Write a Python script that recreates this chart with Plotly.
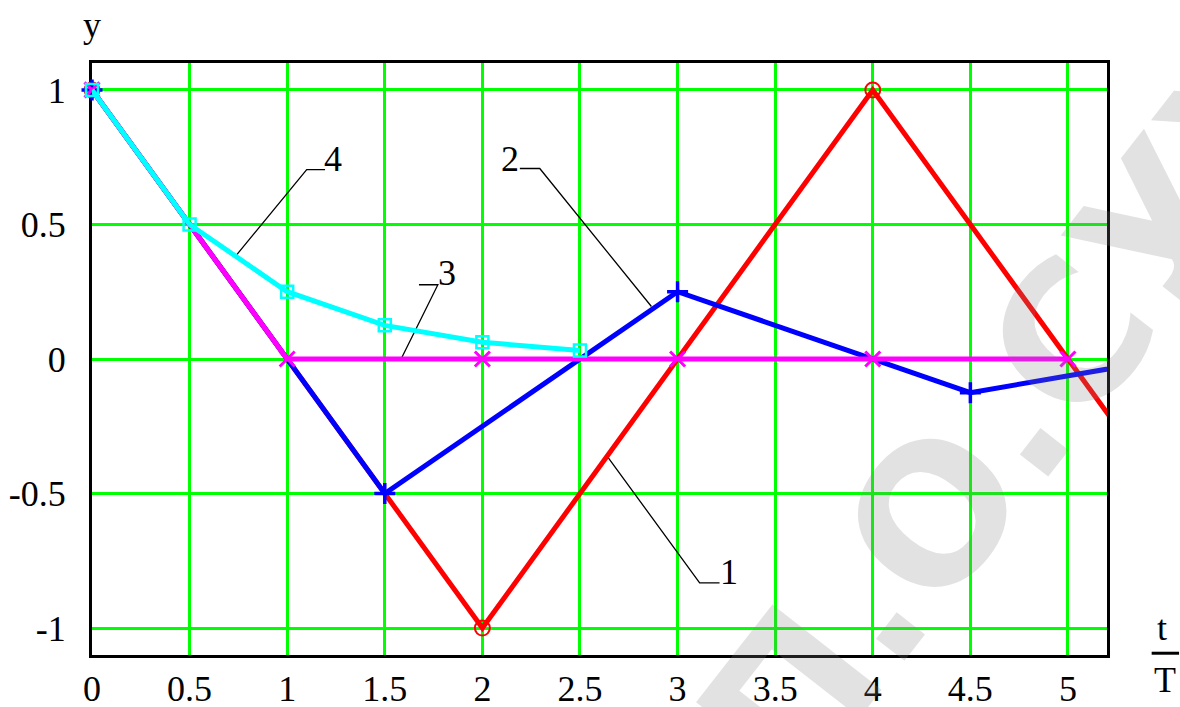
import plotly.graph_objects as go

# ---- data ----
t1 = [0, 2, 4, 6]
y1 = [1, -1, 1, -1]

t2 = [0, 1.5, 3, 4.5, 6]
y2 = [1, -0.5, 0.25, -0.125, 0.0625]

t3 = [0, 1, 2, 3, 4, 5]
y3 = [1, 0, 0, 0, 0, 0]

t4 = [0, 0.5, 1, 1.5, 2, 2.5]
y4 = [1, 0.5, 0.25, 0.125, 0.0625, 0.03125]

x_ticks = [0, 0.5, 1, 1.5, 2, 2.5, 3, 3.5, 4, 4.5, 5]
x_ticktext = ["0", "0.5", "1", "1.5", "2", "2.5", "3", "3.5", "4", "4.5", "5"]
y_ticks = [-1, -0.5, 0, 0.5, 1]
y_ticktext = ["-1", "-0.5", "0", "0.5", "1"]

# leader lines for curve labels
leader_labels = ["1", "2", "3", "4"]
leader_x = [[2.636, 3.113, 3.215], [2.866, 2.294, 2.192], [1.586, 1.772, 1.675], [0.742, 1.100, 1.194]]
leader_y = [[-0.358, -0.832, -0.832], [0.195, 0.708, 0.708], [0.004, 0.276, 0.276], [0.388, 0.704, 0.704]]
label_x = [3.262, 2.144, 1.817, 1.235]
label_y = [-0.790, 0.742, 0.320, 0.742]

watermark = "П.О.СУХОГО"

XMAX = 5.2
FONT = "Liberation Serif"

fig = go.Figure()

# leader lines
for xs, ys in zip(leader_x, leader_y):
    fig.add_trace(go.Scatter(x=xs, y=ys, mode="lines",
                             line=dict(color="black", width=1.3),
                             hoverinfo="skip", showlegend=False))

series = [
    (t1, y1, "#ff0000", "circle-open", 15, 2),
    (t2, y2, "#0000ff", "cross-thin-open", 15, 3.5),
    (t3, y3, "#ff00ff", "x-thin-open", 15, 3),
    (t4, y4, "#00ffff", "square-open", 12, 2.5),
]
for ts, ys, col, sym, msz, mw in series:
    fig.add_trace(go.Scatter(x=ts, y=ys, mode="lines",
                             line=dict(color=col, width=5),
                             hoverinfo="skip", showlegend=False))
    mx = [a for a in ts if a <= XMAX]
    my = [b for a, b in zip(ts, ys) if a <= XMAX]
    fig.add_trace(go.Scatter(x=mx, y=my, mode="markers", cliponaxis=False,
                             marker=dict(symbol=sym, size=msz, color=col,
                                         line=dict(color=col, width=mw)),
                             hoverinfo="skip", showlegend=False))

annotations = []
for lab, lx, ly in zip(leader_labels, label_x, label_y):
    annotations.append(dict(x=lx, y=ly, xref="x", yref="y", text=lab,
                            showarrow=False, font=dict(family=FONT, size=36, color="black"),
                            xanchor="center", yanchor="middle"))

annotations += [
    dict(x=0.0, y=1.064, xref="paper", yref="paper", text="y", showarrow=False,
         font=dict(family=FONT, size=36, color="black"), xanchor="center", yanchor="middle"),
    dict(x=1.054, y=0.045, xref="paper", yref="paper", text="t", showarrow=False,
         font=dict(family=FONT, size=36, color="black"), xanchor="center", yanchor="middle"),
    dict(x=1.057, y=-0.042, xref="paper", yref="paper", text="T", showarrow=False,
         font=dict(family=FONT, size=36, color="black"), xanchor="center", yanchor="middle"),
    dict(x=1.048, y=0.714, xref="paper", yref="paper", text="<b>" + watermark + "</b>",
         showarrow=False, textangle=-52,
         font=dict(family="DejaVu Sans", size=190, color="rgba(128,128,128,0.23)"),
         xanchor="center", yanchor="middle"),
]

fig.update_layout(
    width=1180, height=707,
    margin=dict(l=92, r=73, t=63, b=52),
    paper_bgcolor="white", plot_bgcolor="white",
    annotations=annotations,
    shapes=[dict(type="line", xref="paper", yref="paper",
                 x0=1.044, x1=1.071, y0=0.003, y1=0.003,
                 line=dict(color="black", width=3))],
    xaxis=dict(range=[0, XMAX], tickvals=x_ticks, ticktext=x_ticktext,
               showgrid=True, gridcolor="#00ff00", gridwidth=3, zeroline=False,
               showline=True, mirror=True, linecolor="black", linewidth=3,
               ticks="", tickfont=dict(family=FONT, size=36, color="black"),
               ticklabelstandoff=0, automargin=False, layer="below traces"),
    yaxis=dict(range=[-1.1, 1.1], tickvals=y_ticks, ticktext=y_ticktext,
               showgrid=True, gridcolor="#00ff00", gridwidth=3, zeroline=False,
               showline=True, mirror=True, linecolor="black", linewidth=3,
               ticks="", tickfont=dict(family=FONT, size=36, color="black"),
               ticklabelstandoff=16, automargin=False, layer="below traces"),
)

fig.write_html("out.html", config={"displayModeBar": False},
               post_script="document.body.style.margin='0';document.body.style.overflow='hidden';")
